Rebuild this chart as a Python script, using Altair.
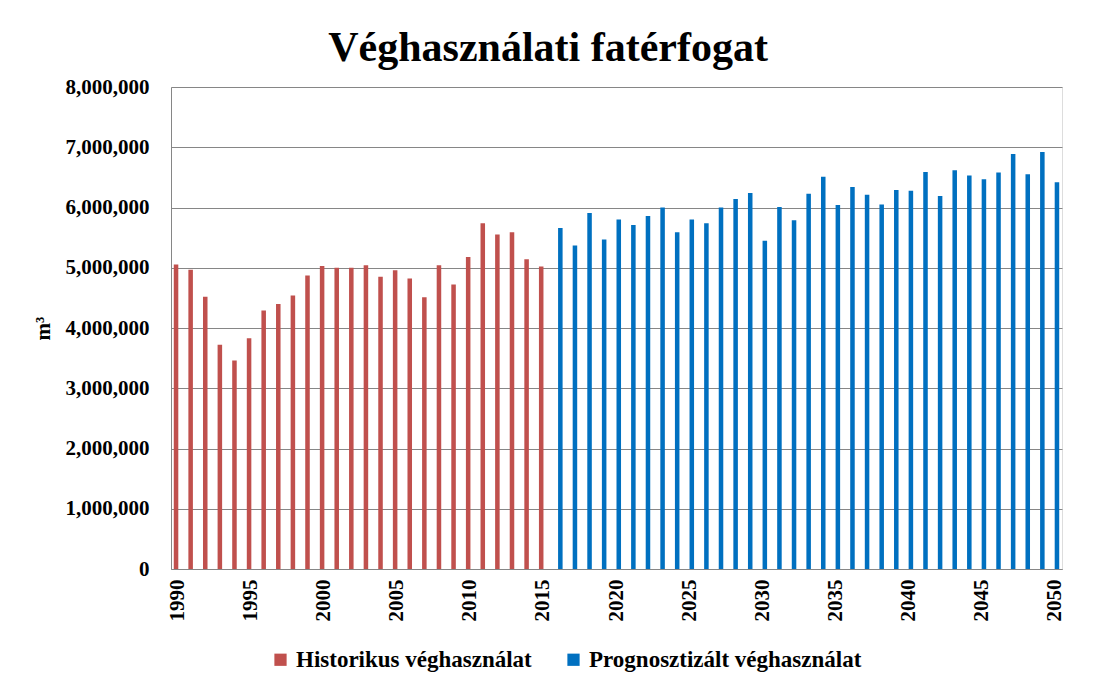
import altair as alt
import pandas as pd

hist_label = "Historikus véghasználat"
prog_label = "Prognosztizált véghasználat"

hist_years = list(range(1990, 2016))
hist_values = [5055000, 4967000, 4520000, 3720000, 3460000, 3830000, 4290000,
               4400000, 4540000, 4870000, 5030000, 5000000, 5000000, 5040000,
               4850000, 4960000, 4820000, 4510000, 5040000, 4720000, 5180000,
               5740000, 5550000, 5590000, 5140000, 5020000]

prog_years = list(range(2016, 2051))
prog_values = [5660000, 5370000, 5910000, 5470000, 5800000, 5710000, 5860000,
               6000000, 5590000, 5800000, 5740000, 6000000, 6140000, 6240000,
               5450000, 6010000, 5790000, 6230000, 6510000, 6040000, 6340000,
               6210000, 6050000, 6290000, 6280000, 6590000, 6190000, 6620000,
               6530000, 6470000, 6580000, 6890000, 6550000, 6920000, 6420000]

series_names = [hist_label, prog_label]
series_colors = ["#C0504D", "#0070C0"]

df = pd.DataFrame({
    "year": hist_years + prog_years,
    "value": hist_values + prog_values,
    "series": [hist_label] * len(hist_years) + [prog_label] * len(prog_years),
})

FONT = "Liberation Serif"

chart = alt.Chart(df).mark_bar().encode(
    x=alt.X("year:O",
            scale=alt.Scale(paddingInner=0.38, paddingOuter=0.19),
            axis=alt.Axis(title=None, labelAngle=-90,
                          labelExpr="datum.value % 5 == 0 ? datum.label : ''",
                          ticks=False, labelPadding=10, labelFont=FONT,
                          labelFontSize=21, labelFontWeight="bold",
                          labelColor="#000000", domainColor="#868686",
                          labelOverlap=False)),
    xOffset=alt.XOffset("series:N", scale=alt.Scale(domain=series_names, paddingInner=0, paddingOuter=0)),
    y=alt.Y("value:Q",
            scale=alt.Scale(domain=[0, 8000000], nice=False),
            axis=alt.Axis(title="m³", values=[0, 1000000, 2000000, 3000000, 4000000,
                                              5000000, 6000000, 7000000, 8000000],
                          format=",d", ticks=False, labelPadding=22,
                          labelFont=FONT, labelFontSize=21, labelFontWeight="bold",
                          labelColor="#000000", titleFont=FONT, titleFontSize=21,
                          titleFontWeight="bold", titleColor="#000000",
                          titlePadding=12, gridColor="#868686", gridWidth=1,
                          domainColor="#868686")),
    color=alt.Color("series:N",
                    scale=alt.Scale(domain=series_names, range=series_colors),
                    legend=alt.Legend(title=None, orient="none", direction="horizontal",
                                      legendX=98, legendY=561, symbolType="square",
                                      symbolSize=150, symbolStrokeWidth=0,
                                      labelOffset=4,
                                      labelFont=FONT, labelFontSize=23,
                                      labelFontWeight="bold", labelColor="#000000",
                                      columnPadding=30, labelLimit=400)),
).properties(
    width=891,
    height=482,
    title=alt.TitleParams("Véghasználati fatérfogat", font=FONT, fontSize=42,
                          fontWeight="bold", color="#000000", anchor="middle",
                          frame="bounds", offset=6),
    padding={"left": 24, "top": 19, "right": 30, "bottom": 10},
).configure_view(stroke=None).configure(background="#ffffff")

chart.save("out.html", embed_options={"renderer": "svg", "actions": False})
